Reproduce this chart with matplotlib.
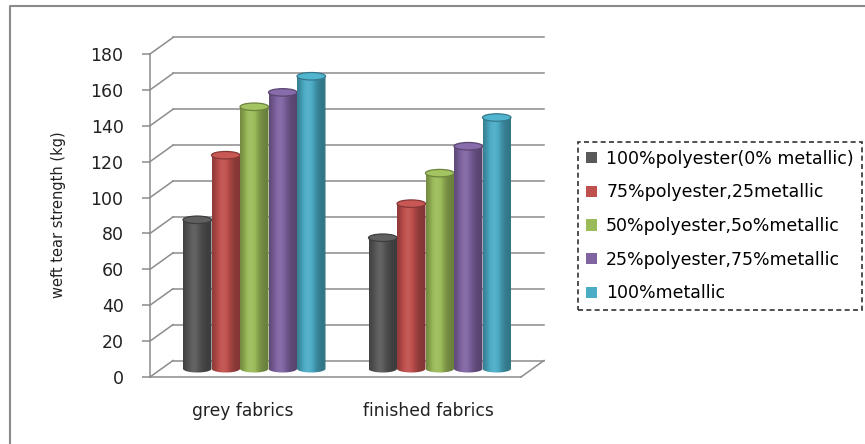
import matplotlib
matplotlib.use('Agg')
import matplotlib.pyplot as plt
import matplotlib.colors as mcolors
import numpy as np
from matplotlib.patches import Ellipse, PathPatch, Patch
from matplotlib.path import Path
from matplotlib.lines import Line2D

# data
categories = ['grey fabrics', 'finished fabrics']
series = ['100%polyester(0% metallic)', '75%polyester,25metallic',
          '50%polyester,5o%metallic', '25%polyester,75%metallic', '100%metallic']
grey = [83, 119, 146, 154, 163]
finished = [73, 92, 109, 124, 140]
colors = ['#595959', '#c0504d', '#9bbb59', '#8064a2', '#4bacc6']
yticks = list(range(0, 181, 20))

W, H = 865, 444
fig = plt.figure(figsize=(W / 100, H / 100), dpi=100)
ax = fig.add_axes([150 / W, 67 / H, 371 / W, 323 / H])

# oblique "3d" offsets in data units (back wall / bar plane)
DX = 23 / 371 * 2
DY = 16.5 / 323 * 180
bw = 28.5 / 371 * 2
eh = 7.5 / 323 * 180
gcol = '#8c8c8c'

# back wall, side wall and floor
for v in yticks:
    ax.plot([-0.5 + DX, 1.5 + DX], [v + DY, v + DY], color=gcol, lw=1.1, clip_on=False, zorder=1)
    ax.plot([-0.5, -0.5 + DX], [v, v + DY], color=gcol, lw=1.1, clip_on=False, zorder=1)
ax.plot([-0.5, 1.5], [0, 0], color=gcol, lw=1.1, clip_on=False, zorder=1)
ax.plot([1.5, 1.5 + DX], [0, DY], color=gcol, lw=1.1, clip_on=False, zorder=1)


def shade(c, n=80):
    rgb = np.array(mcolors.to_rgb(c))
    t = np.linspace(0, 1, n)
    k = 0.68 + 0.40 * np.exp(-((t - 0.38) / 0.28) ** 2)
    out = np.where(k[:, None] <= 1, rgb[None, :] * k[:, None],
                   rgb[None, :] + (1 - rgb[None, :]) * (k[:, None] - 1) * 0.8)
    return np.clip(out, 0, 1)[None, :, :]


def cylinder(cx, v, col, z):
    yb = DY / 2
    yt = v + DY / 2
    th = np.linspace(np.pi, 2 * np.pi, 40)
    xs = list(cx + bw / 2 * np.cos(th)) + [cx + bw / 2, cx - bw / 2, cx - bw / 2]
    ys = list(yb + eh / 2 * np.sin(th)) + [yt, yt, yb]
    verts = list(zip(xs, ys))
    codes = [Path.MOVETO] + [Path.LINETO] * (len(verts) - 2) + [Path.CLOSEPOLY]
    clip = PathPatch(Path(verts, codes), facecolor='none', edgecolor='none',
                     transform=ax.transData)
    ax.add_patch(clip)
    im = ax.imshow(shade(col), extent=[cx - bw / 2, cx + bw / 2, yb - eh, yt],
                   aspect='auto', interpolation='bilinear', zorder=z)
    im.set_clip_path(clip)
    rgb = np.array(mcolors.to_rgb(col))
    top = Ellipse((cx, yt), bw, eh, facecolor=np.clip(rgb * 1.02 + 0.02, 0, 1),
                  edgecolor=rgb * 0.7, lw=0.9, zorder=z + 0.5)
    ax.add_patch(top)


z = 3
for j, col in enumerate(colors):
    for i, vals in enumerate([grey, finished]):
        cx = i + (j - 2) * bw + DX / 2
        cylinder(cx, vals[j], col, z + j)

ax.set_xlim(-0.5, 1.5)
ax.set_ylim(0, 180)
for s in ['top', 'right', 'bottom']:
    ax.spines[s].set_visible(False)
ax.spines['left'].set_color(gcol)
ax.spines['left'].set_linewidth(1.1)
ax.set_yticks(yticks)
ax.tick_params(axis='y', direction='out', length=6, width=1.1, color=gcol,
               pad=13, labelsize=12.5, labelcolor='#222222')
ax.set_xticks(range(len(categories)))
ax.set_xticklabels(categories)
ax.tick_params(axis='x', length=0, pad=18, labelsize=12.3, labelcolor='#222222')

fig.text(59 / W, 1 - 215 / H, 'weft tear strength (kg)', rotation=90,
         ha='center', va='center', fontsize=10.5, color='#222222')

handles = [Patch(facecolor=c, edgecolor='none') for c in colors]
leg = fig.legend(handles, series, loc='upper left',
                 bbox_to_anchor=(578 / W, 1 - 142 / H), bbox_transform=fig.transFigure,
                 fontsize=12.5, handlelength=0.62, handleheight=0.62, handletextpad=0.55,
                 labelspacing=0.9, borderpad=0.45, fancybox=False, borderaxespad=0)
fr = leg.get_frame()
fr.set_edgecolor('black')
fr.set_linestyle((0, (3, 2)))
fr.set_linewidth(1.2)

# chart border (left and top edges visible)
fig.add_artist(Line2D([10 / W, 10 / W, 1], [0, 1 - 6.5 / H, 1 - 6.5 / H],
                      transform=fig.transFigure, color='#8a8a8a', lw=1.5))

fig.savefig('out.png', dpi=100)
